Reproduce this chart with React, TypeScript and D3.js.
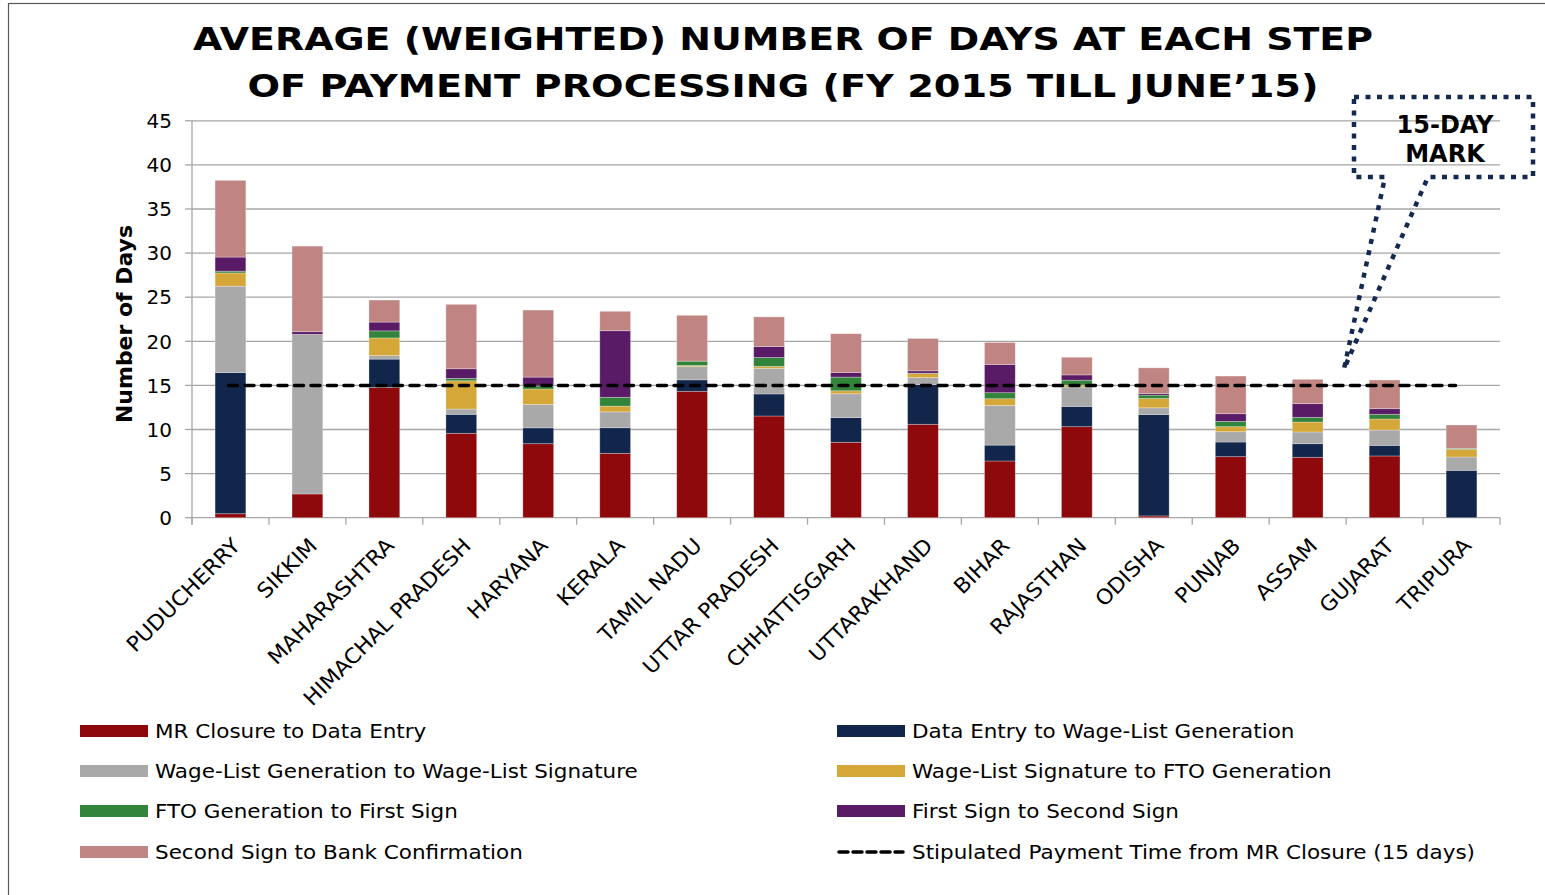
import React, { useMemo } from "react";
import * as d3 from "d3";

const categories = ["PUDUCHERRY","SIKKIM","MAHARASHTRA","HIMACHAL PRADESH","HARYANA","KERALA","TAMIL NADU","UTTAR PRADESH","CHHATTISGARH","UTTARAKHAND","BIHAR","RAJASTHAN","ODISHA","PUNJAB","ASSAM","GUJARAT","TRIPURA"];

const mrToDataEntry = [0.45, 2.69, 14.78, 9.57, 8.39, 7.3, 14.33, 11.53, 8.55, 10.59, 6.43, 10.32, 0.2, 6.92, 6.85, 7.0, 0];
const dataEntryToWageList = [16.0, 0, 3.2, 2.15, 1.8, 2.9, 1.3, 2.5, 2.8, 4.5, 1.8, 2.3, 11.5, 1.66, 1.54, 1.2, 5.37];
const wageListGenToSig = [9.8, 18.1, 0.4, 0.6, 2.65, 1.8, 1.5, 2.9, 2.7, 0.8, 4.5, 2.2, 0.76, 1.17, 1.33, 1.74, 1.51];
const sigToFto = [1.5, 0, 2.0, 3.2, 1.75, 0.65, 0.12, 0.23, 0.34, 0.45, 0.76, 0.2, 1.06, 0.57, 1.13, 1.25, 0.87];
const ftoToFirstSign = [0.2, 0, 0.8, 0.27, 0.35, 1.0, 0.5, 1.0, 1.55, 0.05, 0.68, 0.57, 0.38, 0.6, 0.53, 0.53, 0.11];
const firstToSecondSign = [1.6, 0.3, 1.0, 1.1, 1.0, 7.55, 0, 1.25, 0.52, 0.26, 3.2, 0.6, 0.19, 0.87, 1.55, 0.64, 0];
const secondSignToBank = [8.7, 9.7, 2.5, 7.3, 7.6, 2.2, 5.2, 3.36, 4.4, 3.67, 2.5, 2.0, 2.9, 4.27, 2.76, 3.25, 2.65];

const seriesNames = [
  "MR Closure to Data Entry",
  "Data Entry to Wage-List Generation",
  "Wage-List Generation to Wage-List Signature",
  "Wage-List Signature to FTO Generation",
  "FTO Generation to First Sign",
  "First Sign to Second Sign",
  "Second Sign to Bank Confirmation",
];
const seriesValues = [mrToDataEntry, dataEntryToWageList, wageListGenToSig, sigToFto, ftoToFirstSign, firstToSecondSign, secondSignToBank];
const seriesColors = ["#8E090B", "#12264B", "#A9A9A9", "#D5A638", "#31843A", "#5A1B66", "#C08582"];

const stipulatedDays = 15;
const stipulatedLabel = "Stipulated Payment Time from MR Closure (15 days)";
const yTicks = [0, 5, 10, 15, 20, 25, 30, 35, 40, 45];
const titleLines = ["AVERAGE (WEIGHTED) NUMBER OF DAYS AT EACH STEP", "OF PAYMENT PROCESSING (FY 2015 TILL JUNE\u201915)"];
const calloutLines = ["15-DAY", "MARK"];
const yAxisTitle = "Number of Days";

const W = 1545, H = 895;
const plot = { left: 192, right: 1500, top: 120.8, bottom: 517.7 };
const FONT = "'DejaVu Sans', Verdana, sans-serif";
const WIDEN = 1.075;

export default function App() {
  const x = useMemo(() => d3.scaleBand<string>().domain(categories).range([plot.left, plot.right]).paddingInner(0.6).paddingOuter(0.3), []);
  const y = useMemo(() => d3.scaleLinear().domain([0, 45]).range([plot.bottom, plot.top]), []);

  const table = categories.map((c, i) => {
    const o: any = { cat: c };
    seriesNames.forEach((s, k) => (o[s] = seriesValues[k][i]));
    return o;
  });
  const stacked = d3.stack<any>().keys(seriesNames)(table);

  const step = x.step();
  const boundaries = d3.range(categories.length + 1).map((i) => plot.left + i * step);
  const firstC = x(categories[0])! + x.bandwidth() / 2;
  const lastC = x(categories[categories.length - 1])! + x.bandwidth() / 2;

  const legendCols = [80, 837];
  const legendRows = [731, 771, 811, 852];
  const legendItems = [
    ...seriesNames.map((n, k) => ({ name: n, color: seriesColors[k], dashed: false })),
    { name: stipulatedLabel, color: "#000", dashed: true },
  ];

  const cbox = { x0: 1354, y0: 97, x1: 1533, y1: 177 };
  const tip = [1344, 369];
  const calloutPath = `M${cbox.x0},${cbox.y0} L${cbox.x1},${cbox.y0} L${cbox.x1},${cbox.y1} L1428,${cbox.y1} L${tip[0]},${tip[1]} L1385,${cbox.y1} L${cbox.x0},${cbox.y1} Z`;

  return (
    <svg width={W} height={H} style={{ position: "absolute", left: 0, top: 0, background: "#fff" }} fontFamily={FONT}>
      <rect x={0} y={0} width={W} height={H} fill="#fff" />
      <rect x={8.5} y={3.5} width={W + 20} height={H + 20} fill="none" stroke="#595959" strokeWidth={1.2} />

      {titleLines.map((t, i) => (
        <text key={i} x={783} y={49.5 + i * 47} textAnchor="middle" fontWeight="bold" fontSize={31.5}
          textLength={i === 0 ? 1180 : 1071} lengthAdjust="spacingAndGlyphs" fill="#000">{t}</text>
      ))}

      {/* gridlines */}
      {yTicks.map((t) => (
        <g key={t}>
          <line x1={plot.left} x2={plot.right} y1={y(t)} y2={y(t)} stroke="#A6A6A6" strokeWidth={1.3} />
          <line x1={185} x2={plot.left} y1={y(t)} y2={y(t)} stroke="#A6A6A6" strokeWidth={1.3} />
          <text x={172} y={y(t)} dy="0.36em" textAnchor="end" fontSize={20} fill="#000">{t}</text>
        </g>
      ))}
      <line x1={plot.left} x2={plot.left} y1={plot.top} y2={plot.bottom + 7} stroke="#A6A6A6" strokeWidth={1.3} />
      {boundaries.map((b, i) => (
        <line key={i} x1={b} x2={b} y1={plot.bottom} y2={plot.bottom + 7} stroke="#A6A6A6" strokeWidth={1.3} />
      ))}

      <text transform={`translate(132,${324}) rotate(-90)`} textAnchor="middle" fontWeight="bold" fontSize={20.5}
        textLength={198} lengthAdjust="spacingAndGlyphs" fill="#000">{yAxisTitle}</text>

      {/* bars */}
      {stacked.map((layer, k) => (
        <g key={k} fill={seriesColors[k]}>
          {layer.map((d, i) => {
            const h = y(d[0]) - y(d[1]);
            if (h <= 0) return null;
            return <rect key={i} x={x(categories[i])} y={y(d[1])} width={x.bandwidth()} height={h} stroke="#ffffff" strokeOpacity={0.35} strokeWidth={0.8} />;
          })}
        </g>
      ))}

      {/* stipulated line */}
      <line x1={firstC - 2} x2={lastC - 6} y1={y(stipulatedDays)} y2={y(stipulatedDays)} stroke="#000" strokeWidth={3.5} strokeDasharray="9 7.5" strokeLinecap="round" />

      {/* category labels */}
      {categories.map((c) => {
        const cx = x(c)! + x.bandwidth() / 2;
        return (
          <text key={c} transform={`translate(${cx + 11},${547}) rotate(-45) scale(1.045,1)`} textAnchor="end" fontSize={21} fill="#000">{c}</text>
        );
      })}

      {/* callout */}
      <path d={calloutPath} fill="none" stroke="#13294F" strokeWidth={4.5} strokeDasharray="5 6.5" />
      {calloutLines.map((t, i) => (
        <text key={i} x={1445} y={132.5 + i * 29} textAnchor="middle" fontWeight="bold" fontSize={24} fill="#000">{t}</text>
      ))}

      {/* legend */}
      {legendItems.map((it, j) => {
        const col = j % 2;
        const row = Math.floor(j / 2);
        const lx = legendCols[col];
        const ly = legendRows[row];
        return (
          <g key={j}>
            {it.dashed ? (
              <line x1={lx + 2} x2={lx + 66} y1={ly} y2={ly} stroke="#000" strokeWidth={3.5} strokeDasharray="9 5" strokeLinecap="round" />
            ) : (
              <rect x={lx} y={ly - 6} width={68} height={12} fill={it.color} />
            )}
            <text transform={`translate(${lx + 75},${ly}) scale(${WIDEN},1)`} dy="0.36em" fontSize={20} fill="#000">{it.name}</text>
          </g>
        );
      })}
    </svg>
  );
}
